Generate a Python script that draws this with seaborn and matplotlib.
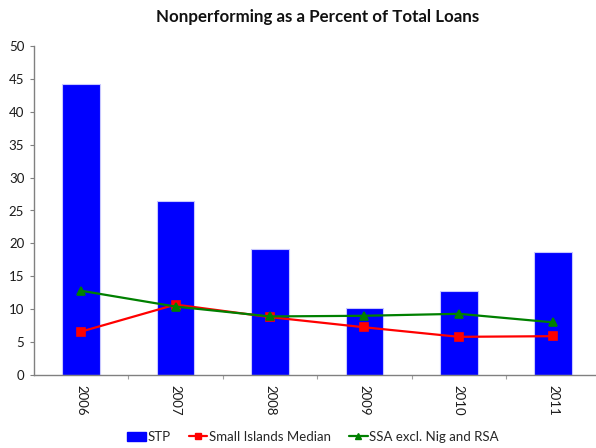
import matplotlib
matplotlib.use("Agg")
import matplotlib.pyplot as plt
import seaborn as sns
import pandas as pd
from matplotlib.patches import Patch
from matplotlib.lines import Line2D

years = ["2006", "2007", "2008", "2009", "2010", "2011"]
stp = [44.2, 26.5, 19.2, 10.2, 12.7, 18.7]
small_islands = [6.6, 10.7, 8.8, 7.25, 5.8, 5.9]
ssa_excl = [12.8, 10.4, 8.9, 9.0, 9.3, 8.0]

sns.set_theme(style="white")
plt.rcParams["font.family"] = ["Lato", "DejaVu Sans"]

df = pd.DataFrame({"year": years, "STP": stp,
                   "Small Islands Median": small_islands,
                   "SSA excl. Nig and RSA": ssa_excl})

fig = plt.figure(figsize=(5.96, 4.48), dpi=100)
ax = fig.add_axes([34 / 596, 73 / 448, 566.4 / 596, 329 / 448])

sns.barplot(data=df, x="year", y="STP", color="#0000ff", saturation=1,
            width=0.4, edgecolor="#c8c8ff", linewidth=0.8, ax=ax)
sns.pointplot(data=df, x="year", y="Small Islands Median", color="#ff0000",
              markers="s", markersize=5.5, linewidth=1.6, ax=ax)
sns.pointplot(data=df, x="year", y="SSA excl. Nig and RSA", color="#008000",
              markers="^", markersize=5.5, linewidth=1.6, ax=ax)

ax.set_xlim(-0.5, 5.5)
ax.set_ylim(0, 50)
ax.set_yticks(range(0, 51, 5))
ax.set_xlabel("")
ax.set_ylabel("")

for side in ["top", "right"]:
    ax.spines[side].set_visible(False)
for side in ["left", "bottom"]:
    ax.spines[side].set_color("#808080")
    ax.spines[side].set_linewidth(1.0)

ax.tick_params(axis="y", which="major", left=True, length=3, width=0.8,
               color="#808080", labelsize=9.5, labelcolor="#1a1a1a", pad=4)
ax.set_xticks([i for i in range(6)])
ax.set_xticklabels(years, rotation=270, fontsize=9.5, color="#1a1a1a")
ax.tick_params(axis="x", which="major", bottom=False, pad=1)
ax.set_xticks([i + 0.5 for i in range(5)], minor=True)
ax.tick_params(axis="x", which="minor", bottom=True, length=3, width=0.8,
               color="#a0a0a0")

ax.set_title("Nonperforming as a Percent of Total Loans", fontsize=12.2,
             fontweight="bold", color="#111111", pad=17)

handles = [
    Patch(facecolor="#0000ff", edgecolor="#0000ff"),
    Line2D([], [], color="#ff0000", marker="s", markersize=5, linewidth=1.6),
    Line2D([], [], color="#008000", marker="^", markersize=5, linewidth=1.6),
]
labels = ["STP", "Small Islands Median", "SSA excl. Nig and RSA"]
fig.legend(handles, labels, loc="center", bbox_to_anchor=(313 / 596, 1 - 437 / 448),
           ncol=3, frameon=False, fontsize=9.5, handlelength=1.4,
           handletextpad=0.1, columnspacing=1.4, borderaxespad=0)

fig.savefig("out.png", dpi=100)
